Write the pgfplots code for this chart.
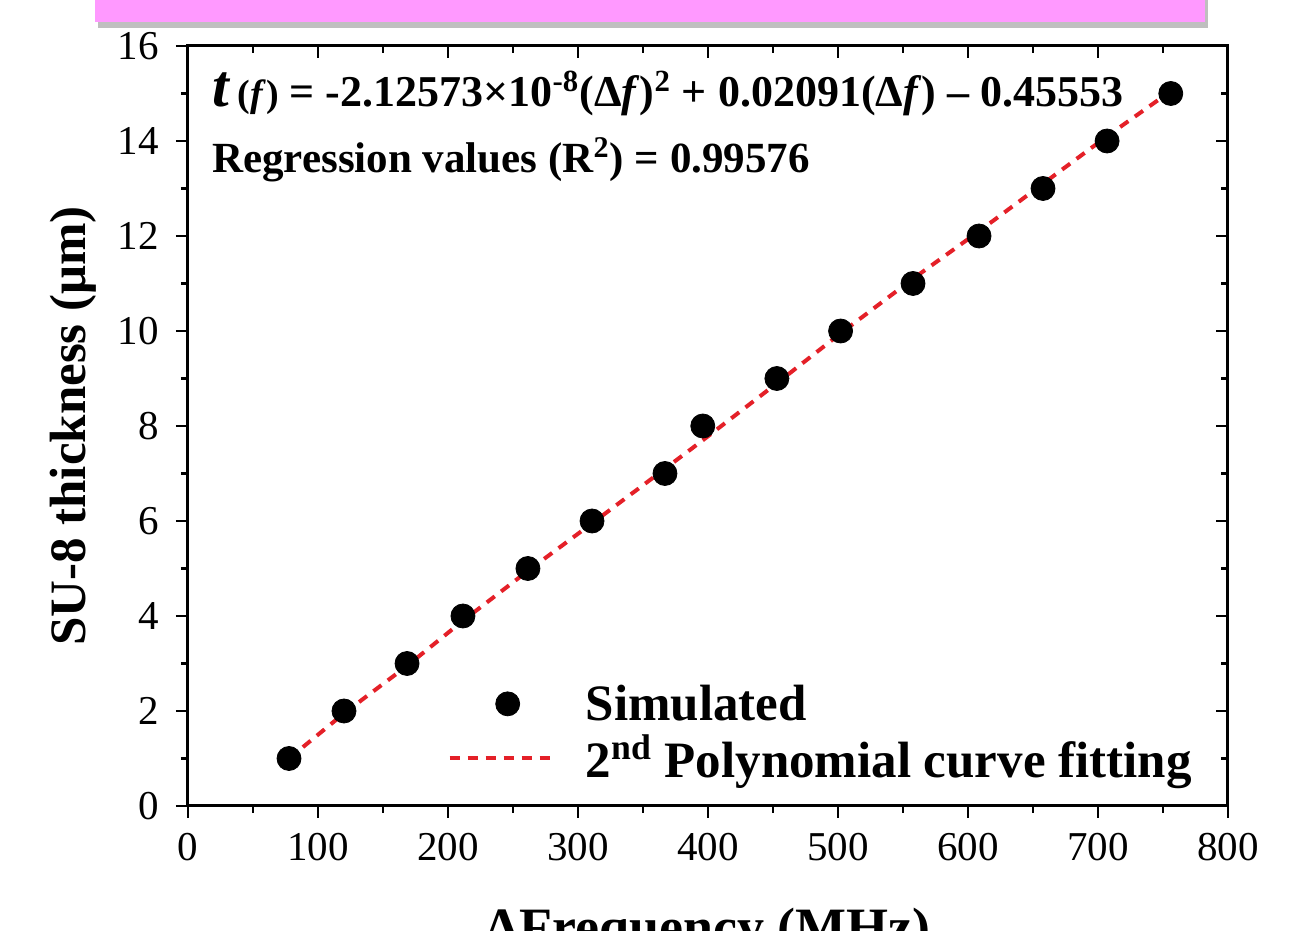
\documentclass[border=0pt]{standalone}
\usepackage{fontspec}
\setmainfont{Liberation Serif}
\usepackage{pgfplots}
\pgfplotsset{compat=1.18}
\definecolor{banner}{RGB}{255,153,255}
\definecolor{fitred}{RGB}{228,32,40}
\pgfplotsset{
  marklegend/.style={legend image code/.code={\draw[##1,mark repeat=2,mark phase=2] plot coordinates {(0pt,0pt)(29pt,0pt)(51pt,0pt)};}},
  linelegend/.style={legend image code/.code={\draw[##1] (0pt,0pt) -- (51pt,0pt);}},
}

\begin{document}
\begin{tikzpicture}
\path[use as bounding box] (-94pt,-62.5pt) rectangle (560pt,403pt);
\clip (-94pt,-62.5pt) rectangle (560pt,403pt);
% cropped pink banner at the top
\fill[black!25] (-45pt,389pt) rectangle (510pt,405pt);
\fill[banner] (-46.5pt,392pt) rectangle (508.5pt,405pt);

% main axis: ticks outside on bottom/left
\begin{axis}[
    at={(0,0)}, anchor=south west,
    scale only axis, width=520pt, height=380pt,
    xmin=0, xmax=800, ymin=0, ymax=16,
    xtick={0,100,...,800}, ytick={0,2,...,16},
    minor x tick num=1, minor y tick num=1,
    tick pos=left, tick align=outside,
    major tick length=6pt, minor tick length=3.5pt,
    every tick/.style={black, line width=1.3pt},
    axis line style={line width=1.5pt},
    tick label style={font=\fontsize{20.5}{22}\selectfont},
    xticklabel style={yshift=-4pt},
    yticklabel style={xshift=-5pt},
    /pgf/number format/assume math mode=true,
    xlabel={ΔFrequency (MHz)},
    ylabel={SU-8 thickness (μm)},
    xlabel style={font=\fontsize{27}{30}\selectfont\bfseries, yshift=-17pt},
    ylabel style={font=\fontsize{25.5}{28}\selectfont\bfseries, yshift=4pt},
    legend style={at={(0.975,0.022)}, anchor=south east, draw=none, fill=none,
        font=\fontsize{25.5}{28}\selectfont\bfseries, row sep=2pt,
        /tikz/every odd column/.append style={column sep=14pt}},
    legend cell align=left,
]
% simulated points
\addplot[only marks, mark=*, mark size=6pt, black, marklegend]
coordinates {
(77.7,1) (120,2) (168.5,3) (211.5,4) (261.5,5) (310.8,6) (366.9,7) (396,8)
(453,9) (502,10) (557.7,11) (608.5,12) (657.7,13) (707,14) (756,15)
};
\addlegendentry{Simulated}
% 2nd order polynomial fit
\addplot[fitred, line width=2pt, dash pattern=on 5pt off 4pt, linelegend]
coordinates {
(77.7,1.0) (120,1.95) (168.5,2.95) (211.5,3.9) (261.5,4.95) (310.8,5.95) (366.9,7.1) (396,7.7)
(453,8.9) (502,9.95) (557.7,11.1) (608.5,12.1) (657.7,13.1) (707,14.1) (756,15.05)
};
\addlegendentry{2\textsuperscript{nd} Polynomial curve fitting}

\node[anchor=west, font=\fontsize{22}{24}\selectfont\bfseries, inner sep=0pt] at (rel axis cs:0.023,0.938)
  {{\fontsize{30}{30}\selectfont\textit{t}}\,{\fontsize{19}{20}\selectfont(\textit{f})} = -2.12573×10\textsuperscript{-8}(Δ\textit{f})\textsuperscript{2} + 0.02091(Δ\textit{f}) – 0.45553};
\node[anchor=west, font=\fontsize{21.5}{24}\selectfont\bfseries, inner sep=0pt] at (rel axis cs:0.023,0.85)
  {Regression values (R\textsuperscript{2}) = 0.99576};
\end{axis}

% overlay axis: mirrored ticks inside on top/right
\begin{axis}[
    at={(0,0)}, anchor=south west,
    scale only axis, width=520pt, height=380pt,
    xmin=0, xmax=800, ymin=0, ymax=16,
    xtick={0,100,...,800}, ytick={0,2,...,16},
    minor x tick num=1, minor y tick num=1,
    tick pos=right, tick align=inside,
    major tick length=6pt, minor tick length=3.5pt,
    every tick/.style={black, line width=1.3pt},
    axis line style={line width=1.5pt},
    xticklabels={}, yticklabels={},
]
\end{axis}
\end{tikzpicture}
\end{document}
